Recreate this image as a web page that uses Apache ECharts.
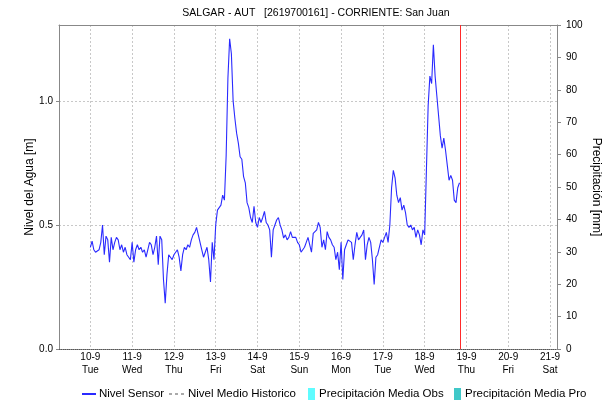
<!DOCTYPE html>
<html>
<head>
<meta charset="utf-8">
<script src="https://cdn.jsdelivr.net/npm/echarts@6/dist/echarts.min.js"></script>
<style>
  html, body { margin: 0; padding: 0; background: #fff; }
  #chart { width: 616px; height: 404px; }
</style>
</head>
<body>
<div id="chart"></div>
<script>
// Day ticks on the time axis (hours counted from 10-9 00:00)
const dayLabels = ['10-9', '11-9', '12-9', '13-9', '14-9', '15-9', '16-9', '17-9', '18-9', '19-9', '20-9', '21-9'];
const weekDays  = ['Tue', 'Wed', 'Thu', 'Fri', 'Sat', 'Sun', 'Mon', 'Tue', 'Wed', 'Thu', 'Fri', 'Sat'];

// Hourly water level from the sensor [m], one array per day
const sensor10 = [0.41, 0.435, 0.40, 0.39, 0.39, 0.40, 0.43, 0.50, 0.38, 0.455, 0.44, 0.35,
                  0.45, 0.40, 0.43, 0.45, 0.44, 0.40, 0.42, 0.39, 0.41, 0.38, 0.37, 0.36];
const sensor11 = [0.43, 0.35, 0.40, 0.42, 0.40, 0.41, 0.39, 0.40, 0.37, 0.40, 0.43, 0.42,
                  0.38, 0.41, 0.455, 0.34, 0.455, 0.44, 0.28, 0.185, 0.30, 0.38, 0.37, 0.36];
const sensor12 = [0.38, 0.39, 0.40, 0.37, 0.315, 0.38, 0.41, 0.40, 0.42, 0.41, 0.44, 0.46,
                  0.47, 0.49, 0.46, 0.43, 0.40, 0.37, 0.39, 0.41, 0.36, 0.27, 0.43, 0.36];
const sensor13 = [0.50, 0.56, 0.57, 0.58, 0.62, 0.60, 0.78, 1.09, 1.25, 1.19, 1.00, 0.93,
                  0.87, 0.83, 0.775, 0.765, 0.695, 0.67, 0.59, 0.57, 0.53, 0.51, 0.575, 0.51];
const sensor14 = [0.49, 0.53, 0.51, 0.53, 0.555, 0.51, 0.50, 0.48, 0.37, 0.48, 0.50, 0.52,
                  0.53, 0.50, 0.48, 0.447, 0.46, 0.44, 0.45, 0.473, 0.45, 0.447, 0.45, 0.43];
const sensor15 = [0.42, 0.39, 0.40, 0.41, 0.43, 0.45, 0.42, 0.39, 0.466, 0.46, 0.48, 0.51,
                  0.49, 0.41, 0.44, 0.40, 0.473, 0.45, 0.44, 0.42, 0.41, 0.36, 0.39, 0.32];
const sensor16 = [0.43, 0.28, 0.40, 0.42, 0.44, 0.44, 0.43, 0.36, 0.42, 0.47, 0.44, 0.44,
                  0.46, 0.48, 0.36, 0.42, 0.45, 0.43, 0.36, 0.26, 0.37, 0.38, 0.387, 0.44];
const sensor17 = [0.43, 0.45, 0.47, 0.43, 0.50, 0.65, 0.72, 0.69, 0.62, 0.59, 0.61, 0.56,
                  0.58, 0.55, 0.50, 0.49, 0.50, 0.48, 0.49, 0.45, 0.48, 0.46, 0.42, 0.48];
const sensor18 = [0.46, 0.72, 0.98, 1.10, 1.07, 1.226, 1.10, 1.02, 0.94, 0.86, 0.81, 0.85,
                  0.80, 0.74, 0.68, 0.70, 0.68, 0.60, 0.59, 0.65, 0.67];

// Historic mean level and precipitation series carry no values in this period
const historicMean = [];
const precipObs = [];
const precipPro = [];

// Time window and "now" marker, in hours from 10-9 00:00
const axisStartHour = -18;
const axisEndHour = 268;
const nowHour = 212.4;

const sensorDays = [sensor10, sensor11, sensor12, sensor13, sensor14, sensor15, sensor16, sensor17, sensor18];
const sensorData = [];
sensorDays.forEach((day, d) => day.forEach((v, h) => sensorData.push([d * 24 + h, v])));

const dayTickHours = dayLabels.map((_, i) => i * 24);

const FONT = 'Liberation Sans, Arial, sans-serif';

// one legend block per entry so each sits at its own spot along the bottom
function legendEntry(name, left, textPad, opts) {
  return Object.assign({
    data: [name], left: left, top: 383, itemGap: 0,
    textStyle: { fontFamily: FONT, fontSize: 11.5, color: '#000', padding: [0, 0, 0, textPad] }
  }, opts);
}

const chart = echarts.init(document.getElementById('chart'), null, { renderer: 'canvas' });

chart.setOption({
  animation: false,
  backgroundColor: '#fff',
  textStyle: { fontFamily: FONT },
  title: {
    text: 'SALGAR - AUT   [2619700161] - CORRIENTE: San Juan',
    left: 311, top: 3, textAlign: 'center',
    textStyle: { fontFamily: FONT, fontSize: 10.5, fontWeight: 'normal', color: '#000' }
  },
  grid: { left: 59, right: 59, top: 25, bottom: 55, show: false },
  legend: [
    legendEntry('Nivel Sensor', 76, -2, { itemWidth: 14, itemHeight: 12, itemStyle: { opacity: 0 } }),
    legendEntry('Nivel Medio Historico', 163, -2, { itemWidth: 16, itemHeight: 12, itemStyle: { opacity: 0 } }),
    legendEntry('Precipitación Media Obs', 303, -1, { itemWidth: 7, itemHeight: 12, icon: 'rect' }),
    legendEntry('Precipitación Media Pro', 449, -1, { itemWidth: 7, itemHeight: 12, icon: 'rect' })
  ],
  xAxis: [
    {
      type: 'value', min: axisStartHour, max: axisEndHour,
      axisLine: { show: true, lineStyle: { color: '#555', type: [1, 1], width: 1 } },
      axisTick: { show: false, customValues: dayTickHours },
      axisLabel: {
        customValues: dayTickHours, margin: 2,
        fontFamily: FONT, fontSize: 10, color: '#000', lineHeight: 13,
        formatter: (v) => {
          const i = Math.round(v / 24);
          return dayLabels[i] + '\n' + weekDays[i];
        }
      },
      splitLine: { show: true, lineStyle: { color: '#c8c8c8', type: [2, 2], width: 1 } }
    },
    {
      type: 'value', position: 'top', min: axisStartHour, max: axisEndHour,
      axisLine: { show: true, onZero: false, lineStyle: { color: '#888', width: 1 } },
      axisTick: { show: false }, axisLabel: { show: false }, splitLine: { show: false }
    }
  ],
  yAxis: [
    {
      type: 'value', min: 0, max: 1.306,
      name: 'Nivel del Agua [m]', nameLocation: 'middle', nameRotate: 90,
      nameGap: 23, nameMoveOverlap: false,
      nameTextStyle: { fontFamily: FONT, fontSize: 12, color: '#000' },
      axisLine: { show: true, onZero: false, lineStyle: { color: '#888', width: 1 } },
      axisTick: { show: true, length: 3, customValues: [0, 0.5, 1.0], lineStyle: { color: '#888' } },
      axisLabel: {
        customValues: [0, 0.5, 1.0], margin: 6,
        fontFamily: FONT, fontSize: 10, color: '#000',
        formatter: (v) => v.toFixed(1)
      },
      splitLine: { show: true, lineStyle: { color: '#c8c8c8', type: [2, 2], width: 1 } }
    },
    {
      type: 'value', min: 0, max: 100, interval: 10, position: 'right',
      name: 'Precipitación [mm]', nameLocation: 'middle', nameRotate: -90,
      nameGap: 33, nameMoveOverlap: false,
      nameTextStyle: { fontFamily: FONT, fontSize: 12, color: '#000' },
      axisLine: { show: true, onZero: false, lineStyle: { color: '#888', width: 1 } },
      axisTick: { show: true, length: 4, lineStyle: { color: '#888' } },
      axisLabel: { margin: 9, fontFamily: FONT, fontSize: 10, color: '#000' },
      splitLine: { show: false }
    }
  ],
  series: [
    {
      name: 'Nivel Sensor', type: 'line', xAxisIndex: 0, yAxisIndex: 0,
      data: sensorData, showSymbol: false, symbol: 'none',
      lineStyle: { color: '#2a2aff', width: 1.1 },
      itemStyle: { color: '#2a2aff' },
      markLine: {
        silent: true, symbol: 'none', label: { show: false },
        lineStyle: { color: '#ff2a2a', type: 'solid', width: 1 },
        data: [{ xAxis: nowHour }]
      },
      z: 3
    },
    {
      name: 'Nivel Medio Historico', type: 'line', xAxisIndex: 0, yAxisIndex: 0,
      data: historicMean, showSymbol: false, symbol: 'none',
      lineStyle: { color: '#aaaaaa', type: [3, 3], width: 1 },
      itemStyle: { color: '#aaaaaa' }
    },
    {
      name: 'Precipitación Media Obs', type: 'bar', xAxisIndex: 0, yAxisIndex: 1,
      data: precipObs, itemStyle: { color: '#5ffcff' }
    },
    {
      name: 'Precipitación Media Pro', type: 'bar', xAxisIndex: 0, yAxisIndex: 1,
      data: precipPro, itemStyle: { color: '#40c8c8' }
    }
  ]
});
</script>
</body>
</html>
